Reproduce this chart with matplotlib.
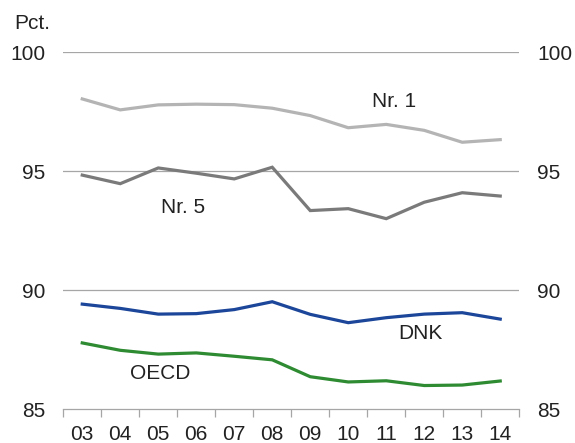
import matplotlib
matplotlib.use("Agg")
import matplotlib.pyplot as plt
import numpy as np

years = ["03", "04", "05", "06", "07", "08", "09", "10", "11", "12", "13", "14"]
nr1 = [98.04, 97.58, 97.79, 97.82, 97.80, 97.65, 97.34, 96.83, 96.97, 96.72, 96.22, 96.33]
nr5 = [94.84, 94.48, 95.14, 94.92, 94.68, 95.17, 93.35, 93.43, 93.01, 93.70, 94.10, 93.96]
dnk = [89.42, 89.24, 89.00, 89.02, 89.19, 89.52, 88.99, 88.64, 88.85, 89.00, 89.06, 88.79]
oecd = [87.79, 87.48, 87.32, 87.37, 87.23, 87.08, 86.37, 86.15, 86.20, 86.00, 86.02, 86.19]
yticks = [85, 90, 95, 100]

plt.rcParams['font.family'] = ['Liberation Sans', 'DejaVu Sans']
FS = 15
fig = plt.figure(figsize=(5.75, 4.43), dpi=100)
ax = fig.add_axes([0.110, 0.076, 0.793, 0.806])

x = np.arange(len(years))
ax.plot(x, nr1, color="#b4b4b4", lw=2.3, solid_joinstyle="miter", zorder=3)
ax.plot(x, nr5, color="#7a7a7a", lw=2.3, solid_joinstyle="miter", zorder=3)
ax.plot(x, dnk, color="#1c4699", lw=2.3, solid_joinstyle="miter", zorder=3)
ax.plot(x, oecd, color="#2e8b32", lw=2.3, solid_joinstyle="miter", zorder=3)

ax.set_xlim(-0.5, len(years) - 0.5)
ax.set_ylim(85, 100)
for v in yticks[1:]:
    ax.axhline(v, color="#a6a6a6", lw=0.9, zorder=1)

for s in ["left", "right", "top"]:
    ax.spines[s].set_visible(False)
ax.spines["bottom"].set_color("#a6a6a6")
ax.spines["bottom"].set_linewidth(0.9)

ax.set_yticks(yticks)
ax.tick_params(axis="y", length=0, labelsize=FS, pad=13, labelright=True, labelcolor="#222222")

ax.set_xticks(np.arange(-0.5, len(years), 1.0))
ax.set_xticklabels([])
ax.tick_params(axis="x", which="major", length=6, color="#a6a6a6", width=0.9)
ax.set_xticks(x, minor=True)
ax.set_xticklabels(years, minor=True)
ax.tick_params(axis="x", which="minor", length=0, pad=11, labelsize=FS, labelcolor="#222222")

fig.text(0.024, 0.948, "Pct.", fontsize=FS, ha="left", va="center", color="#222222")

tk = dict(fontsize=FS, color="#222222", ha="center", va="baseline")
ax.text(8.21, 97.70, "Nr. 1", **tk)
ax.text(2.64, 93.25, "Nr. 5", **tk)
ax.text(8.89, 87.95, "DNK", **tk)
ax.text(2.05, 86.27, "OECD", **tk)

fig.savefig("out.png", dpi=100)
